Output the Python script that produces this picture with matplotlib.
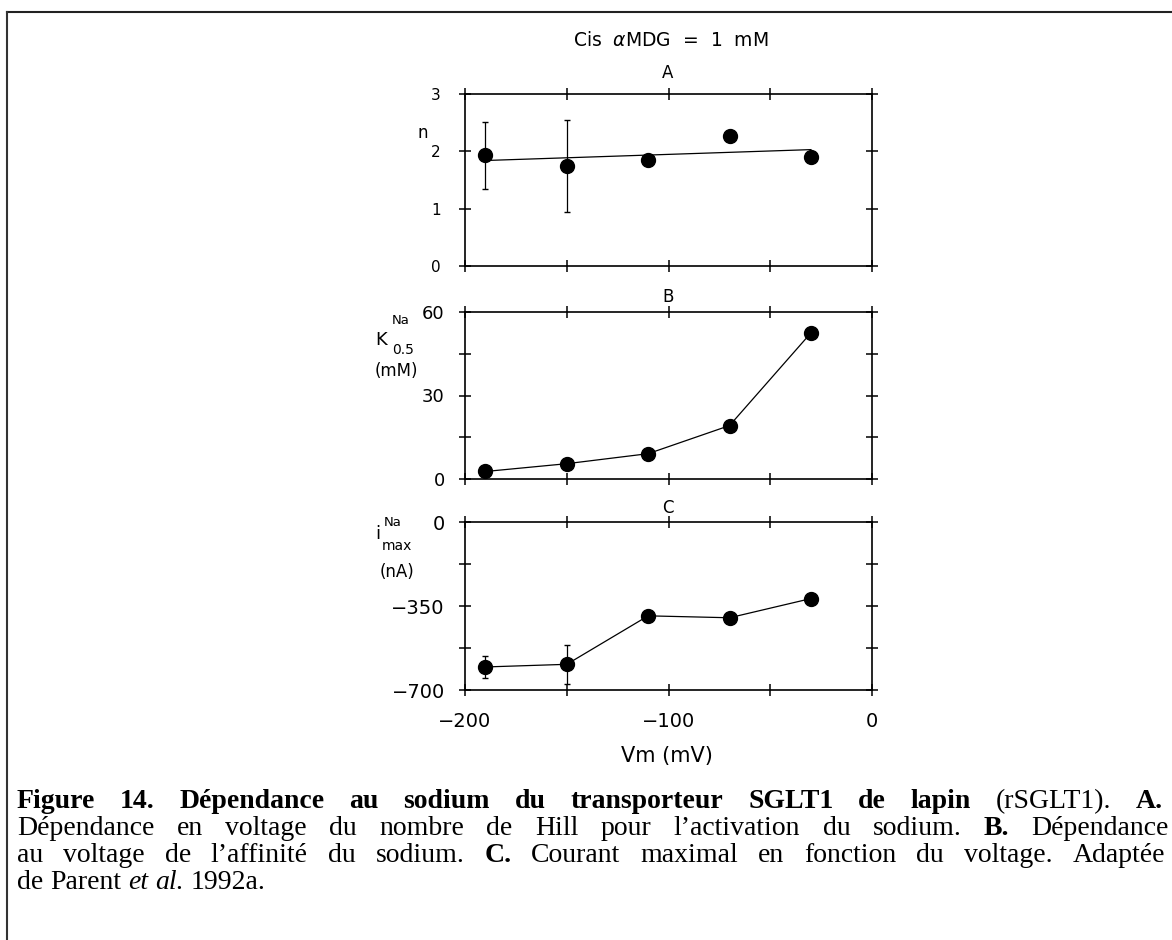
import re

import matplotlib
matplotlib.use('Agg')
import matplotlib.pyplot as plt
from matplotlib.lines import Line2D
from matplotlib.ticker import MultipleLocator

# --- data ---
vm = [-190, -150, -110, -70, -30]

hill_n = [1.93, 1.75, 1.85, 2.26, 1.90]
hill_err = [0.58, 0.80, 0, 0, 0]
hill_fit_x = [-190, -30]
hill_fit_y = [1.84, 2.03]

k05 = [2.7, 5.5, 9.1, 19.2, 52.5]

imax = [-604, -593, -391, -399, -319]
imax_err = [47, 81, 0, 0, 0]

W, H = 1172, 940
plt.rcParams['font.family'] = 'DejaVu Sans'
plt.rcParams['mathtext.fontset'] = 'dejavusans'

fig = plt.figure(figsize=(W / 100, H / 100), dpi=100)


def fy(y):
    return 1 - y / H


def fx(x):
    return x / W


def style_axes(ax, tick_size, ypad):
    for sp in ax.spines.values():
        sp.set_linewidth(1.2)
    ax.set_xlim(-200, 0)
    ax.xaxis.set_major_locator(MultipleLocator(100))
    ax.xaxis.set_minor_locator(MultipleLocator(50))
    ax.tick_params(which='both', direction='inout', top=True, right=True,
                   labeltop=False, labelright=False, width=1.1)
    ax.tick_params(which='major', length=9)
    ax.tick_params(which='minor', length=8)
    ax.tick_params(axis='y', labelsize=tick_size, pad=ypad)
    ax.tick_params(axis='x', labelsize=14, pad=11)


marker = dict(marker='o', ms=10, color='black', mfc='black', mec='black')

# panel A : Hill number
axA = fig.add_axes([fx(465), fy(266), 407 / W, 172 / H])
axA.plot(hill_fit_x, hill_fit_y, color='black', lw=0.9)
axA.errorbar(vm, hill_n, yerr=hill_err, fmt='none', ecolor='black', elinewidth=0.9, capsize=2)
axA.plot(vm, hill_n, ls='none', **marker)
axA.set_ylim(0, 3)
axA.yaxis.set_major_locator(MultipleLocator(1))
style_axes(axA, 11, 13)
axA.tick_params(labelbottom=False)

# panel B : apparent affinity
axB = fig.add_axes([fx(465), fy(479), 407 / W, 167 / H])
axB.plot(vm, k05, lw=0.9, **marker)
axB.set_ylim(0, 60)
axB.yaxis.set_major_locator(MultipleLocator(30))
axB.yaxis.set_minor_locator(MultipleLocator(15))
style_axes(axB, 13, 10)
axB.tick_params(labelbottom=False)

# panel C : maximal current
axC = fig.add_axes([fx(465), fy(690), 407 / W, 168 / H])
axC.errorbar(vm, imax, yerr=imax_err, fmt='none', ecolor='black', elinewidth=0.9, capsize=2)
axC.plot(vm, imax, lw=0.9, **marker)
axC.set_ylim(-700, 0)
axC.yaxis.set_major_locator(MultipleLocator(350))
axC.yaxis.set_minor_locator(MultipleLocator(175))
style_axes(axC, 14, 10)

# titles and labels
fig.text(fx(671), fy(40), 'Cis  $\\alpha$MDG  =  1  mM', ha='center', va='center', fontsize=13.5)
fig.text(fx(668), fy(73), 'A', ha='center', va='center', fontsize=12)
fig.text(fx(668), fy(297), 'B', ha='center', va='center', fontsize=12)
fig.text(fx(668), fy(508), 'C', ha='center', va='center', fontsize=12)
fig.text(fx(423), fy(133), 'n', ha='center', va='center', fontsize=12)

# K0.5 label built from pieces so sub/superscripts sit like the scan
fig.text(fx(381), fy(340), 'K', ha='center', va='center', fontsize=13)
fig.text(fx(401), fy(320), 'Na', ha='center', va='center', fontsize=9.5)
fig.text(fx(403), fy(350), '0.5', ha='center', va='center', fontsize=10)
fig.text(fx(396), fy(371), '(mM)', ha='center', va='center', fontsize=12)

# imax label
fig.text(fx(378), fy(534), 'i', ha='center', va='center', fontsize=13)
fig.text(fx(393), fy(522), 'Na', ha='center', va='center', fontsize=9.5)
fig.text(fx(397), fy(546), 'max', ha='center', va='center', fontsize=10)
fig.text(fx(397), fy(572), '(nA)', ha='center', va='center', fontsize=12)

fig.text(fx(667), fy(756), 'Vm (mV)', ha='center', va='center', fontsize=15)

# page frame (top and left rules of the scan)
fig.add_artist(Line2D([fx(7), 1], [fy(12), fy(12)], transform=fig.transFigure, color='#222222', lw=1.5))
fig.add_artist(Line2D([fx(7), fx(7)], [fy(12), 0], transform=fig.transFigure, color='#333333', lw=1.5))

# caption, justified word by word
cap_size = 20
renderer = fig.canvas.get_renderer()


def caption_line(parts, y_base, x0=17, x1=1163, justify=True):
    units = []
    pending = True
    for text, weight, style in parts:
        for tok in re.findall(r'\S+|\s+', text):
            if tok.isspace():
                pending = True
                continue
            t = fig.text(0, 0, tok, fontsize=cap_size, family='Liberation Serif',
                         weight=weight, style=style, va='baseline')
            w = t.get_window_extent(renderer).width
            if pending or not units:
                units.append([(t, w)])
            else:
                units[-1].append((t, w))
            pending = False
    total = sum(w for u in units for _, w in u)
    if justify and len(units) > 1:
        gap = (x1 - x0 - total) / (len(units) - 1)
    else:
        gap = cap_size * 100 / 72 * 0.25
    x = x0
    for u in units:
        for t, w in u:
            t.set_position((fx(x), fy(y_base)))
            x += w
        x += gap


caption_line([('Figure 14. Dépendance au sodium du transporteur SGLT1 de lapin', 'bold', 'normal'),
              (' (rSGLT1). ', 'normal', 'normal'),
              ('A.', 'bold', 'normal')], 808)
caption_line([('Dépendance en voltage du nombre de Hill pour l\u2019activation du sodium. ', 'normal', 'normal'),
              ('B.', 'bold', 'normal'),
              (' Dépendance', 'normal', 'normal')], 835, x1=1169)
caption_line([('au voltage de l\u2019affinité du sodium. ', 'normal', 'normal'),
              ('C.', 'bold', 'normal'),
              (' Courant maximal en fonction du voltage. Adaptée', 'normal', 'normal')], 862, x1=1165)
caption_line([('de Parent ', 'normal', 'normal'),
              ('et al.', 'normal', 'italic'),
              (' 1992a.', 'normal', 'normal')], 889, justify=False)

fig.savefig('out.png', dpi=100)
